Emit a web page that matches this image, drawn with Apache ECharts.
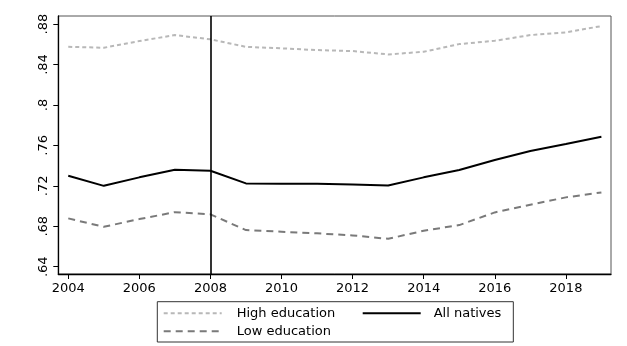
<!DOCTYPE html>
<html>
<head>
<meta charset="utf-8">
<script src="https://cdn.jsdelivr.net/npm/echarts@6/dist/echarts.min.js"></script>
<style>html,body{margin:0;padding:0;background:#fff;}#c{width:627px;height:346px;}</style>
</head>
<body>
<div id="c"></div>
<script>
var years = [2004,2005,2006,2007,2008,2009,2010,2011,2012,2013,2014,2015,2016,2017,2018,2019];
var highEducation = [0.8575,0.8566,0.8632,0.8691,0.8649,0.8575,0.8560,0.8543,0.8533,0.8500,0.8526,0.8602,0.8635,0.8691,0.8718,0.8780];
var allNatives = [0.7300,0.7200,0.7284,0.7359,0.7349,0.7224,0.7220,0.7220,0.7214,0.7204,0.7284,0.7356,0.7455,0.7544,0.7613,0.7685];
var lowEducation = [0.6878,0.6795,0.6871,0.6940,0.6918,0.6762,0.6746,0.6730,0.6710,0.6676,0.6756,0.6812,0.6937,0.7013,0.7086,0.7135];
var xTicks = [2004,2006,2008,2010,2012,2014,2016,2018];
var yTicks = [0.64,0.68,0.72,0.76,0.80,0.84,0.88];
var eventYear = 2008;

function pairs(vals){ return years.map(function(y,i){ return [y, vals[i]]; }); }
var FONT = 'DejaVu Sans';
var chart = echarts.init(document.getElementById('c'), null, {renderer:'canvas'});
chart.setOption({
  animation: false,
  backgroundColor: '#fff',
  textStyle: {fontFamily: FONT},
  grid: {left: 58.3, top: 16, right: 16, bottom: 72, show: true, borderColor: '#555', borderWidth: 1, backgroundColor: 'transparent'},
  xAxis: {
    type: 'value', min: 2003.72, max: 2019.27,
    axisLine: {show: true, lineStyle: {color: '#000', width: 1.3}},
    axisTick: {show: true, length: 5, customValues: xTicks, lineStyle: {color: '#000', width: 1}},
    axisLabel: {customValues: xTicks, margin: 8, fontFamily: FONT, fontSize: 13, color: '#000', formatter: function(v){ return String(Math.round(v)); }},
    splitLine: {show: false}
  },
  yAxis: {
    type: 'value', min: 0.6328, max: 0.888,
    axisLine: {show: true, lineStyle: {color: '#000', width: 1.3}},
    axisTick: {show: true, length: 5, customValues: yTicks, lineStyle: {color: '#000', width: 1}},
    axisLabel: {customValues: yTicks, rotate: 90, margin: 8, fontFamily: FONT, fontSize: 13, color: '#000',
      formatter: function(v){ return String(+(+v).toFixed(2)).replace(/^0/, ''); }},
    splitLine: {show: false}
  },
  legend: {
    left: 157.3, top: 301.7, width: 362,
    orient: 'horizontal',
    padding: [4.6, 6, 3.7, 5.4],
    itemGap: 4,
    itemWidth: 58, itemHeight: 14,
    borderColor: '#333', borderWidth: 1,
    itemStyle: {opacity: 0},
    textStyle: {fontFamily: FONT, fontSize: 13, color: '#000', padding: [0,0,0,10], lineHeight: 14},
    data: [
      {name: 'High education', textStyle: {width: 121}},
      {name: 'All natives', textStyle: {padding: [0,6,0,8]}},
      {name: 'Low education', textStyle: {width: 121}}
    ]
  },
  series: [
    {name: 'High education', type: 'line', data: pairs(highEducation), symbol: 'none', showSymbol: false,
      lineStyle: {color: '#b8b8b8', width: 2, type: [4,3]}, itemStyle: {color: '#b8b8b8'}, z: 3},
    {name: 'All natives', type: 'line', data: pairs(allNatives), symbol: 'none', showSymbol: false,
      lineStyle: {color: '#000', width: 2, type: 'solid'}, itemStyle: {color: '#000'}, z: 4,
      markLine: {silent: true, symbol: 'none', label: {show: false},
        lineStyle: {color: '#000', width: 1.6, type: 'solid'}, data: [{xAxis: eventYear}]}},
    {name: 'Low education', type: 'line', data: pairs(lowEducation), symbol: 'none', showSymbol: false,
      lineStyle: {color: '#7a7a7a', width: 2, type: [7,5]}, itemStyle: {color: '#7a7a7a'}, z: 3}
  ]
});
</script>
</body>
</html>
